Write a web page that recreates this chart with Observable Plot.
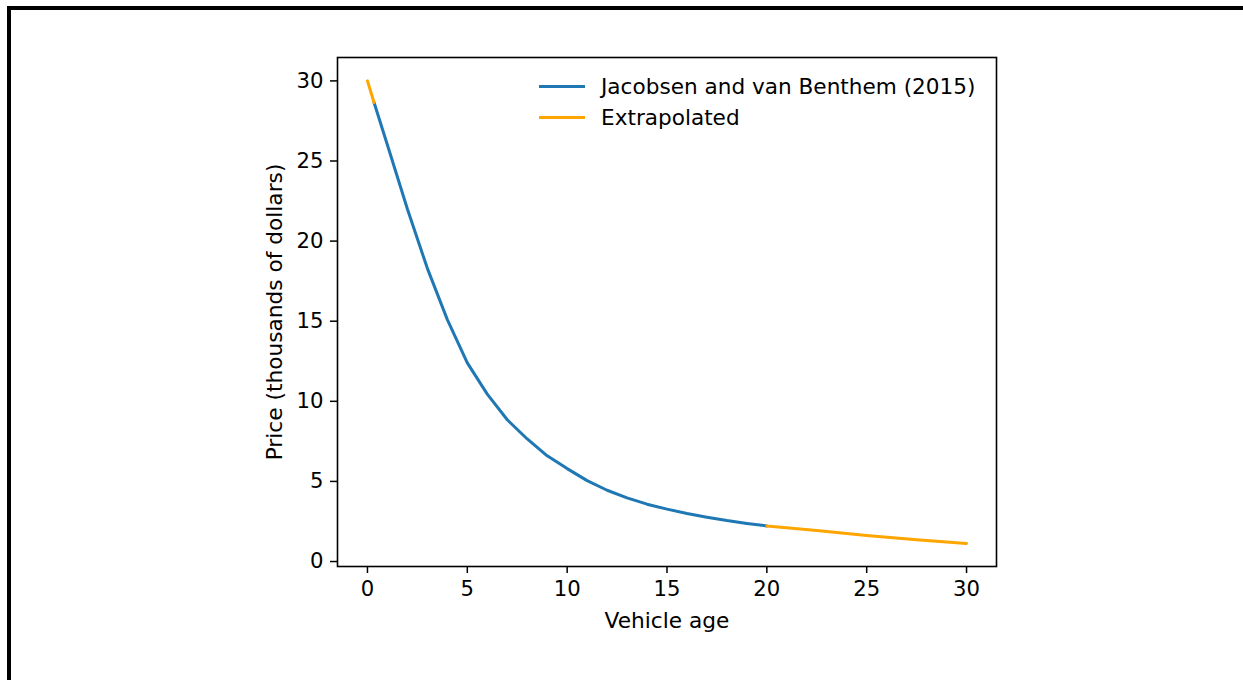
<!DOCTYPE html>
<html>
<head>
<meta charset="utf-8">
<script src="https://cdn.jsdelivr.net/npm/d3@7"></script>
<script src="https://cdn.jsdelivr.net/npm/@observablehq/plot@0.6"></script>
<style>
  html, body { margin: 0; padding: 0; background: #fff; overflow: hidden; }
  #wrap { position: relative; width: 1243px; height: 680px; font-family: "DejaVu Sans", sans-serif; }
  #border { position: absolute; left: 7px; top: 6px; width: 2000px; height: 2000px; border: 4px solid #000; box-sizing: border-box; }
  #legend { position: absolute; left: 539px; top: 71px; font-size: 21.6px; color: #000; line-height: 31px; }
  #legend .row { display: flex; align-items: center; }
  #legend .sw { width: 46px; height: 3px; margin-right: 16px; }
  svg text { font-size: 21.2px; }
  svg g[aria-label="x-axis label"] text, svg g[aria-label="y-axis label"] text { font-size: 21.7px; }
</style>
</head>
<body>
<div id="wrap"><div id="border"></div></div>
<script>
// Jacobsen and van Benthem (2015) used-vehicle price curve (thousands of dollars)
const jvbAge   = [0.33, 1, 2, 3, 4, 5, 6, 7, 8, 9, 10, 11, 12, 13, 14, 15, 16, 17, 18, 19, 20];
const jvbPrice = [28.65, 26.0, 22.0, 18.3, 15.1, 12.4, 10.45, 8.85, 7.65, 6.6, 5.8, 5.05, 4.45, 3.97, 3.58, 3.27, 3.0, 2.77, 2.56, 2.38, 2.22];
// Extrapolated segments
const extraLowAge    = [0, 0.33];
const extraLowPrice  = [30.0, 28.65];
const extraHighAge   = [20, 22.5, 25, 27.5, 30];
const extraHighPrice = [2.22, 1.93, 1.63, 1.36, 1.13];
const seriesNames = ["Jacobsen and van Benthem (2015)", "Extrapolated"];
const seriesColors = ["#1f77b4", "#ffa500"];
const xTicks = [0, 5, 10, 15, 20, 25, 30];
const yTicks = [0, 5, 10, 15, 20, 25, 30];

const jvb = jvbAge.map((a, i) => ({age: a, price: jvbPrice[i]}));
const extLow = extraLowAge.map((a, i) => ({age: a, price: extraLowPrice[i]}));
const extHigh = extraHighAge.map((a, i) => ({age: a, price: extraHighPrice[i]}));

const chart = Plot.plot({
  width: 1243,
  height: 680,
  marginLeft: 337,
  marginRight: 247,
  marginTop: 57,
  marginBottom: 114,
  style: {fontFamily: "DejaVu Sans, sans-serif", fontSize: "21.2px", color: "#000", background: "transparent", overflow: "visible"},
  x: {domain: [-1.5, 31.5]},
  y: {domain: [-0.31, 31.46]},
  marks: [
    Plot.axisX({ticks: xTicks, tickSize: 7, tickPadding: 7, label: "Vehicle age", labelAnchor: "center", labelOffset: 61, labelArrow: "none", stroke: "#000", strokeWidth: 1.5}),
    Plot.axisY({ticks: yTicks, tickSize: 7, tickPadding: 7, label: "Price (thousands of dollars)", labelAnchor: "center", labelOffset: 71, labelArrow: "none", stroke: "#000", strokeWidth: 1.5}),
    Plot.line(jvb, {x: "age", y: "price", stroke: seriesColors[0], strokeWidth: 3}),
    Plot.line(extLow, {x: "age", y: "price", stroke: seriesColors[1], strokeWidth: 3}),
    Plot.line(extHigh, {x: "age", y: "price", stroke: seriesColors[1], strokeWidth: 3}),
    Plot.frame({stroke: "#000", strokeWidth: 1.6})
  ]
});
chart.style.position = "absolute";
chart.style.left = "0px";
chart.style.top = "0px";
const wrap = document.getElementById("wrap");
wrap.appendChild(chart);

const legend = document.createElement("div");
legend.id = "legend";
seriesNames.forEach((n, i) => {
  const row = document.createElement("div");
  row.className = "row";
  const sw = document.createElement("div");
  sw.className = "sw";
  sw.style.background = seriesColors[i];
  const t = document.createElement("span");
  t.textContent = n;
  row.appendChild(sw);
  row.appendChild(t);
  legend.appendChild(row);
});
wrap.appendChild(legend);
</script>
</body>
</html>
